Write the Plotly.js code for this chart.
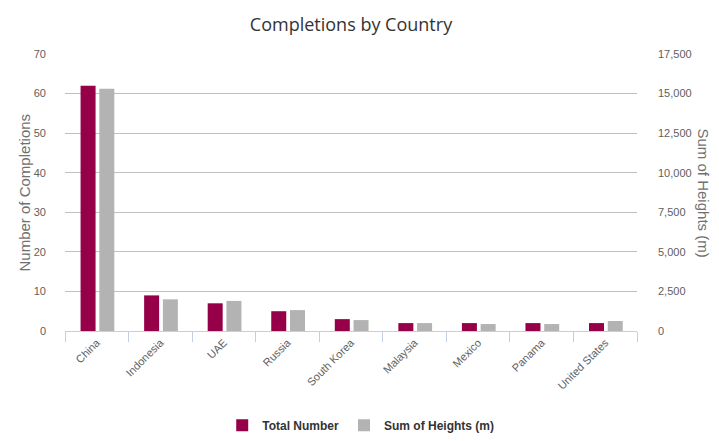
<!DOCTYPE html>
<html>
<head>
<meta charset="utf-8">
<script src="https://cdn.plot.ly/plotly-3.0.1.min.js"></script>
<style>html,body{margin:0;padding:0;background:#fff;}#chart{width:719px;height:441px;}</style>
</head>
<body>
<div id="chart"></div>
<script>
const countries = ["China", "Indonesia", "UAE", "Russia", "South Korea", "Malaysia", "Mexico", "Panama", "United States"];
const totalNumber = [62, 9, 7, 5, 3, 2, 2, 2, 2];
const sumOfHeights = [15300, 2000, 1900, 1320, 690, 500, 440, 440, 630];
const leftTicks = [0, 10, 20, 30, 40, 50, 60, 70];
const rightTicks = [0, 2500, 5000, 7500, 10000, 12500, 15000, 17500];
const rightTickLabels = ["0", "2,500", "5,000", "7,500", "10,000", "12,500", "15,000", "17,500"];

const tickFont = {family: "Liberation Sans, Arial, sans-serif", size: 11, color: "#606060"};
const axisTitleFont = {family: "Liberation Sans, Arial, sans-serif", size: 15, color: "#707070"};

const traces = [
  {
    type: "bar", name: "Total Number", x: countries, y: totalNumber,
    marker: {color: "#960048"}, width: 0.236, offset: -0.255,
    xaxis: "x", yaxis: "y", hoverinfo: "x+y"
  },
  {
    type: "bar", name: "Sum of Heights (m)", x: countries, y: sumOfHeights,
    marker: {color: "#b3b3b3"}, width: 0.236, offset: 0.04,
    xaxis: "x", yaxis: "y2", hoverinfo: "x+y"
  }
];

const layout = {
  width: 719, height: 441,
  margin: {l: 65, r: 82, t: 54, b: 110, autoexpand: false},
  paper_bgcolor: "#ffffff", plot_bgcolor: "#ffffff",
  title: {text: "Completions by Country", x: 0.5, xref: "paper", y: 0.945, yanchor: "middle",
          font: {family: "Open Sans, sans-serif", size: 18, color: "#333333"}},
  showlegend: true,
  legend: {orientation: "h", x: 0.517, xanchor: "center", y: -0.34, yanchor: "middle",
           font: {family: "Liberation Sans, Arial, sans-serif", size: 12, color: "#333333", weight: "bold"},
           traceorder: "normal", itemclick: false, itemwidth: 30},
  xaxis: {
    type: "category", tickangle: -45, tickfont: tickFont,
    showline: true, linecolor: "#c0d0e0", linewidth: 1,
    ticks: "outside", tickson: "boundaries", ticklen: 10, tickcolor: "#c0d0e0",
    showgrid: false, zeroline: false, fixedrange: true
  },
  yaxis: {
    range: [0, 70], tickvals: leftTicks, ticktext: leftTicks.map(String), tickfont: tickFont,
    showgrid: true, gridcolor: "#c0c0c0", gridwidth: 1, zeroline: false,
    ticks: "", ticklabelstandoff: 18, fixedrange: true
  },
  yaxis2: {
    range: [0, 17500], overlaying: "y", side: "right",
    tickvals: rightTicks, ticktext: rightTickLabels, tickfont: tickFont,
    showgrid: false, zeroline: false, ticks: "", ticklabelstandoff: 20,
    fixedrange: true
  },
  annotations: [
    {text: "Number of Completions", xref: "paper", yref: "paper", x: 0, xshift: -41, y: 0.5,
     showarrow: false, textangle: -90, xanchor: "center", yanchor: "middle", font: axisTitleFont},
    {text: "Sum of Heights (m)", xref: "paper", yref: "paper", x: 1, xshift: 66, y: 0.5,
     showarrow: false, textangle: 90, xanchor: "center", yanchor: "middle", font: axisTitleFont}
  ]
};

Plotly.newPlot("chart", traces, layout, {displayModeBar: false, responsive: false});
</script>
</body>
</html>
